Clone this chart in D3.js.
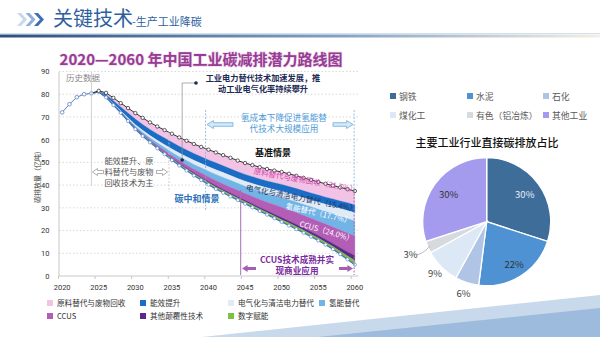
<!DOCTYPE html>
<html>
<head>
<meta charset="utf-8">
<script src="https://cdn.jsdelivr.net/npm/d3@7"></script>
<style>
  body { margin: 0; background: #fff; }
  svg { font-family: "Noto Sans CJK SC", "Noto Sans", sans-serif; display: block; }
</style>
</head>
<body>
<svg id="page" width="600" height="337"></svg>
<script>
// ---- historical emissions (亿吨) ----
var histYears = [2020, 2021, 2022, 2023, 2024]
var histValues = [72.0, 75.6, 78.7, 80.0, 80.4]

// ---- projection 2024..2060 ----
var projYears = d3.range(2024, 2061)
var baseline = [80.4, 81.5, 80.6, 78.4, 76.1, 73.9, 71.7, 69.6, 67.6, 65.8, 64.2, 62.6, 61.0, 59.5,
  58.1, 56.8, 55.6, 54.4, 53.2, 52.0, 50.8, 49.7, 48.8, 47.9, 47.1, 46.4, 45.8, 45.0, 44.1, 43.2,
  42.3, 41.4, 40.6, 39.8, 39.0, 38.2, 37.4]

// reduction wedges, stacked downwards from the baseline
var cutMaterial = [0, 0.2, 0.8, 1.3, 1.7, 2.2, 2.6, 2.9, 3.1, 3.3, 3.5, 3.7, 3.9, 4.0, 4.2, 4.3, 4.5,
  4.6, 4.7, 4.8, 4.9, 5.0, 5.1, 5.2, 5.3, 5.4, 5.5, 5.6, 5.6, 5.7, 5.8, 5.8, 5.9, 5.9, 6.0, 6.0, 6.1]
var cutEfficiency = [0, 0.3, 0.9, 1.3, 1.7, 2.1, 2.5, 2.6, 2.7, 2.8, 2.9, 3.0, 3.0, 3.0, 3.0, 3.0, 3.0,
  3.0, 3.0, 3.0, 3.0, 3.0, 3.0, 3.0, 3.0, 3.0, 3.0, 3.0, 3.0, 3.0, 3.0, 3.1, 3.1, 3.2, 3.3, 3.4, 3.5]
var cutElectric = [0, 0, 0.1, 0.2, 0.3, 0.5, 0.7, 0.8, 1.0, 1.1, 1.3, 1.5, 1.6, 1.7, 1.8, 1.9, 2.0,
  2.1, 2.1, 2.1, 2.1, 2.2, 2.3, 2.4, 2.5, 2.6, 2.7, 2.8, 2.9, 3.0, 3.0, 3.1, 3.2, 3.3, 3.4, 3.5, 3.6]
var cutHydrogen = [0, 0, 0.1, 0.2, 0.3, 0.4, 0.6, 0.8, 0.9, 1.1, 1.3, 1.5, 1.7, 1.9, 2.1, 2.3, 2.5,
  2.7, 2.9, 3.0, 3.1, 3.2, 3.4, 3.6, 3.8, 4.0, 4.3, 4.5, 4.7, 4.9, 5.1, 5.3, 5.5, 5.8, 6.1, 6.4, 6.6]
var cutCcus = [0, 0, 0, 0, 0, 0.1, 0.2, 0.3, 0.4, 0.6, 0.8, 1.0, 1.2, 1.4, 1.6, 1.8, 2.0,
  2.2, 2.4, 2.6, 2.8, 3.0, 3.2, 3.5, 3.8, 4.2, 4.6, 4.9, 5.2, 5.5, 5.9, 6.3, 6.8, 7.3, 7.8, 8.3, 8.7]
var cutDisruptive = [0, 0, 0, 0, 0.1, 0.1, 0.1, 0.2, 0.2, 0.2, 0.3, 0.3, 0.4, 0.4, 0.5, 0.5, 0.6,
  0.6, 0.6, 0.6, 0.6, 0.6, 0.7, 0.7, 0.8, 0.8, 0.9, 0.9, 1.0, 1.0, 1.1, 1.1, 1.2, 1.3, 1.5, 1.8, 2.1]
var cutDigital = [0, 0, 0.1, 0.2, 0.2, 0.3, 0.4, 0.4, 0.5, 0.5, 0.5, 0.6, 0.6, 0.7, 0.7, 0.8, 0.8,
  0.9, 0.9, 0.9, 0.9, 0.9, 0.9, 0.9, 0.9, 1.0, 1.0, 1.1, 1.1, 1.1, 1.1, 1.1, 1.1, 1.2, 1.3, 1.5, 1.8]

var wedgeKeys = ['material', 'efficiency', 'electric', 'hydrogen', 'ccus', 'disruptive', 'digital']
var wedgeNames = ['原料替代与废物回收', '能效提升', '电气化与清洁电力替代', '氢能替代', 'CCUS', '其他颠覆性技术', '数字赋能']
var wedgeColors = ['#f3c3e6', '#1b6cc4', '#e0ebf6', '#72b4e6', '#b35db6', '#5a2a88', '#7cc143']

var yTicks = [0, 10, 20, 30, 40, 50, 60, 70, 80, 90]
var xTickYears = [2020, 2025, 2030, 2035, 2040, 2045, 2050, 2055, 2060]

// ---- sector shares for the pie ----
var sectors = ['钢铁', '水泥', '石化', '煤化工', '有色（铝冶炼）', '其他工业']
var sectorShares = [30, 22, 6, 9, 3, 30]
var sectorColors = ['#3e6d99', '#4e92d3', '#b0c4e5', '#dce8f5', '#d6d9dd', '#a49bee']

var svg = d3.select('#page')

/* --------------------------------------
   Page header and decoration
*/
var defs = svg.append('defs')
var hg = defs.append('linearGradient').attr('id', 'headbar')
hg.append('stop').attr('offset', '0%').attr('stop-color', '#2c4f7d')
hg.append('stop').attr('offset', '55%').attr('stop-color', '#7f9fc4')
hg.append('stop').attr('offset', '100%').attr('stop-color', '#f2efe3')
svg.append('rect').attr('x', 0).attr('y', 33).attr('width', 600).attr('height', 1)
  .attr('fill', '#d3deeb')
svg.append('rect').attr('x', 0).attr('y', 34.5).attr('width', 600).attr('height', 3)
  .attr('fill', 'url(#headbar)')

var chevronColors = ['#c9d8ec', '#8fb0da', '#3d6fb2']
chevronColors.forEach(function (c, i) {
  var x0 = 17 + i * 8.5
  svg.append('path')
    .attr('d', `M${x0},13 L${x0 + 4},13 L${x0 + 10},19.5 L${x0 + 4},26 L${x0},26 L${x0 + 6},19.5 Z`)
    .attr('fill', c)
})
svg.append('text').attr('x', 53).attr('y', 26).attr('font-size', 20)
  .attr('fill', '#2f5f9f').text('关键技术')
svg.append('text').attr('x', 132).attr('y', 26).attr('font-size', 11)
  .attr('fill', '#2f5f9f').text('-生产工业降碳')

svg.append('path').attr('d', 'M202,337 L600,295 L600,337 Z').attr('fill', '#c8d9ec')
svg.append('path').attr('d', 'M318,337 L600,308 L600,337 Z').attr('fill', '#9dbbdc')

/* --------------------------------------
   Roadmap chart
*/
svg.append('text').attr('x', 201).attr('y', 65).attr('text-anchor', 'middle')
  .attr('font-size', 15).attr('font-weight', 700).attr('fill', '#973c94')
  .attr('stroke', '#ecd3ea').attr('stroke-width', 1.2).attr('paint-order', 'stroke')
  .text('2020—2060 年中国工业碳减排潜力路线图')

var x = d3.scaleLinear().domain([2019.5, 2060.5]).range([58.5, 358.5])
var y = d3.scaleLinear().domain([0, 90]).range([276, 71.5])

var chart = svg.append('g').attr('class', 'roadmap')

// grid
chart.append('g').selectAll('line').data(yTicks.slice(1)).join('line')
  .attr('x1', 59).attr('x2', 358).attr('y1', d => y(d)).attr('y2', d => y(d))
  .attr('stroke', '#c9c9c9').attr('stroke-width', 0.7).attr('stroke-dasharray', '1.5,2')

// y axis
var yAxis = d3.axisLeft(y).tickValues(yTicks).tickSize(0).tickPadding(9)
var gy = chart.append('g').attr('transform', 'translate(58.5,0)').call(yAxis)
gy.select('.domain').attr('stroke', '#c8c8c8')
gy.selectAll('text').attr('font-size', 7.5).attr('fill', '#333').attr('font-family', 'Roboto, sans-serif')

// x axis: ticks sit between yearly categories
var gx = chart.append('g').attr('transform', 'translate(0,276)')
gx.append('line').attr('x1', 58.5).attr('x2', 358.5).attr('stroke', '#c8c8c8')
gx.selectAll('line.tk').data(xTickYears).join('line').attr('class', 'tk')
  .attr('x1', d => x(d - 0.5)).attr('x2', d => x(d - 0.5)).attr('y1', 0).attr('y2', 3)
  .attr('stroke', '#c8c8c8')
gx.selectAll('text').data(xTickYears).join('text')
  .attr('x', d => x(d)).attr('y', 14).attr('text-anchor', 'middle')
  .attr('font-size', 7.5).attr('fill', '#333').attr('font-family', 'Roboto, sans-serif')
  .text(d => d)

svg.append('text').attr('transform', 'translate(40,175) rotate(-90)').attr('text-anchor', 'middle')
  .attr('font-size', 7).attr('fill', '#333').text('碳排放量（亿吨）')

// stacked wedges below the baseline
var rows = projYears.map(function (yr, i) {
  return {
    year: yr, base: baseline[i],
    material: cutMaterial[i], efficiency: cutEfficiency[i], electric: cutElectric[i],
    hydrogen: cutHydrogen[i], ccus: cutCcus[i], disruptive: cutDisruptive[i], digital: cutDigital[i]
  }
})
var stacked = d3.stack().keys(wedgeKeys)(rows)

var wedgeArea = d3.area()
  .x(d => x(d.data.year))
  .y0(d => y(d.data.base - d[0]))
  .y1(d => y(d.data.base - d[1]))

chart.append('g').selectAll('path').data(stacked).join('path')
  .attr('d', wedgeArea)
  .attr('fill', (d, i) => wedgeColors[i])
  .attr('stroke', (d, i) => wedgeColors[i]).attr('stroke-width', 0.3)

var neutral = rows.map(r => ({ year: r.year, v: r.base - wedgeKeys.reduce((s, k) => s + r[k], 0) }))

var line = d3.line().x(d => x(d.year)).y(d => y(d.v))

// carbon-neutral path
chart.append('path').attr('d', line(neutral)).attr('fill', 'none')
  .attr('stroke', '#3f74c6').attr('stroke-width', 1.2)
chart.append('g').selectAll('circle').data(neutral.slice(1)).join('circle')
  .attr('cx', d => x(d.year)).attr('cy', d => y(d.v)).attr('r', 1.6)
  .attr('fill', '#fff').attr('stroke', '#5b88cc').attr('stroke-width', 0.7)

// baseline path
var base = rows.map(r => ({ year: r.year, v: r.base }))
chart.append('path').attr('d', line(base)).attr('fill', 'none')
  .attr('stroke', '#222').attr('stroke-width', 0.9)
chart.append('g').selectAll('circle').data(base.slice(1)).join('circle')
  .attr('cx', d => x(d.year)).attr('cy', d => y(d.v)).attr('r', 1.7)
  .attr('fill', '#fff').attr('stroke', '#222').attr('stroke-width', 0.7)

// history
var hist = histYears.map((yr, i) => ({ year: yr, v: histValues[i] }))
chart.append('path').attr('d', line(hist)).attr('fill', 'none')
  .attr('stroke', '#5a7fc2').attr('stroke-width', 1)
chart.append('g').selectAll('circle').data(hist).join('circle')
  .attr('cx', d => x(d.year)).attr('cy', d => y(d.v)).attr('r', 1.8)
  .attr('fill', '#fff').attr('stroke', '#5a7fc2').attr('stroke-width', 0.8)

/* --------------------------------------
   Annotations on the roadmap
*/
var note = svg.append('g').attr('class', 'notes')

function vline (xv, y1, y2, color, dash, w) {
  note.append('line').attr('x1', xv).attr('x2', xv).attr('y1', y1).attr('y2', y2)
    .attr('stroke', color).attr('stroke-width', w || 0.8).attr('stroke-dasharray', dash || null)
}
function txt (xv, yv, s, size, color, weight, anchor) {
  return note.append('text').attr('x', xv).attr('y', yv).attr('font-size', size)
    .attr('fill', color).attr('font-weight', weight || 400)
    .attr('text-anchor', anchor || 'middle').text(s)
}
// block arrow, pointing left (dir=-1) or right (dir=1)
function arrow (xv, yv, dir, w, h, fill, stroke) {
  var hw = h / 2
  var head = Math.min(w * 0.45, h * 0.8)
  var p = [[0, 0], [head, -hw], [head, -hw * 0.45], [w, -hw * 0.45], [w, hw * 0.45], [head, hw * 0.45], [head, hw]]
  var pts = p.map(q => [xv + dir * q[0], yv + q[1]])
  note.append('path').attr('d', 'M' + pts.join('L') + 'Z')
    .attr('fill', fill).attr('stroke', stroke || 'none').attr('stroke-width', 0.8)
}

// history marker
vline(x(2024), 72, 186, '#c4c4c4')
txt(66, 81, '历史数据', 8.5, '#8a8a8a', 400, 'start')

// efficiency + material period
vline(x(2034.6), 132, 192, '#c4c4c4', '2,1.5')
txt(129, 164, '能效提升、原', 8.2, '#555')
txt(129, 175, '料替代与废物', 8.2, '#555')
txt(129, 186, '回收技术为主', 8.2, '#555')
arrow(92.5, 172, 1, 11, 7, '#fff', '#999')
arrow(167.5, 172, -1, 11, 7, '#fff', '#999')

// electrification callout
note.append('path').attr('d', `M${x(2036.4)},160 L${x(2036.4)},83 L196,83`)
  .attr('fill', 'none').attr('stroke', '#8a8a8a').attr('stroke-width', 0.7)
note.append('circle').attr('cx', x(2036.4)).attr('cy', 160).attr('r', 1.8).attr('fill', '#1c2a4f')
note.append('circle').attr('cx', 196).attr('cy', 83).attr('r', 1.8).attr('fill', '#1c2a4f')
txt(263, 81, '工业电力替代技术加速发展，推', 8.2, '#1c2a55', 700)
txt(263, 92, '动工业电气化率持续攀升', 8.2, '#1c2a55', 700)

// hydrogen period
vline(x(2039.6), 110, 210, '#79b3e3', '2,1.5')
vline(x(2059.9), 110, 190, '#79b3e3', '2,1.5')
txt(284, 121, '氢成本下降促进氢能替', 8.6, '#4d9ad8')
txt(284, 132, '代技术大规模应用', 8.6, '#4d9ad8')
arrow(207, 124.5, 1, 26, 8, '#d6e8f7', '#6aaee3')
arrow(353, 124.5, -1, 20, 8, '#d6e8f7', '#6aaee3')

txt(273, 156, '基准情景', 9, '#111', 700)
txt(197, 202, '碳中和情景', 9, '#2e72b8', 700)

// wedge labels along the slope
function slant (cx, cy, ang, s, color) {
  note.append('text').attr('transform', `translate(${cx},${cy}) rotate(${ang})`)
    .attr('text-anchor', 'middle').attr('font-size', 7.6).attr('fill', color).text(s)
}
slant(305, 183, 10, '原料替代与废物回收（21.7%）', '#cf4aad')
slant(301, 201, 11, '电气化与清洁电力替代（15.4%）', '#1f3462')
slant(318, 216, 13, '氢能替代（17.7%）', '#fff')
slant(326, 234, 16, 'CCUS（24.0%）', '#fff')

// CCUS period
vline(x(2044.4), 190, 275, '#a270b8', null, 1)
vline(x(2059.9), 190, 275, '#a270b8', '2,1.5', 1)
txt(297, 263, 'CCUS技术成熟并实', 8.6, '#7a2a9e', 700)
txt(297, 274, '现商业应用', 8.6, '#7a2a9e', 700)
arrow(242, 268.5, 1, 14, 7, '#a65db5')
arrow(353, 268.5, -1, 14, 7, '#a65db5')

// legend
var legPos = [[47, 303], [140, 303], [228, 303], [319, 303], [47, 316], [140, 316], [228, 316]]
var leg = svg.append('g').selectAll('g').data(wedgeNames).join('g')
  .attr('transform', (d, i) => `translate(${legPos[i][0]},${legPos[i][1]})`)
leg.append('rect').attr('x', 0).attr('y', -3).attr('width', 6).attr('height', 6)
  .attr('fill', (d, i) => wedgeColors[i])
leg.append('text').attr('x', 10).attr('y', 3).attr('font-size', 7.6).attr('fill', '#333').text(d => d)

/* --------------------------------------
   Sector pie
*/
var pieLegPos = [[390, 96], [467, 96], [543, 96], [390, 115], [467, 115], [543, 115]]
var pleg = svg.append('g').selectAll('g').data(sectors).join('g')
  .attr('transform', (d, i) => `translate(${pieLegPos[i][0]},${pieLegPos[i][1]})`)
pleg.append('rect').attr('x', 0).attr('y', -3).attr('width', 6).attr('height', 6)
  .attr('fill', (d, i) => sectorColors[i])
pleg.append('text').attr('x', 9).attr('y', 3.5).attr('font-size', 8.8).attr('fill', '#595959').text(d => d)

svg.append('text').attr('x', 487).attr('y', 147).attr('text-anchor', 'middle')
  .attr('font-size', 11).attr('font-weight', 500).attr('fill', '#111').text('主要工业行业直接碳排放占比')

var cx = 486.7, cy = 221.7, r = 64
var arcs = d3.pie().sort(null).value(d => d)(sectorShares)
var arc = d3.arc().innerRadius(0).outerRadius(r)
var pie = svg.append('g').attr('transform', `translate(${cx},${cy})`)
pie.selectAll('path').data(arcs).join('path')
  .attr('d', arc).attr('fill', (d, i) => sectorColors[i])
  .attr('stroke', '#fff').attr('stroke-width', 1.3)

// label positions: inside for big slices, outside for small ones
var labelR = [47, 51, 75, 73, 83, 47]
var labelColor = ['#e9eef6', '#333', '#444', '#444', '#444', '#333']
pie.selectAll('text').data(arcs).join('text')
  .attr('transform', (d, i) => {
    var a = (d.startAngle + d.endAngle) / 2
    return `translate(${Math.sin(a) * labelR[i]},${-Math.cos(a) * labelR[i] + 3.5})`
  })
  .attr('text-anchor', 'middle').attr('font-size', 9.5)
  .attr('fill', (d, i) => labelColor[i])
  .text(d => d.data + '%')

// leader for the small slice
var small = arcs[4]
var am = (small.startAngle + small.endAngle) / 2
var p0 = [Math.sin(am) * (r - 2), -Math.cos(am) * (r - 2)]
var p1 = [Math.sin(am) * (r + 10), -Math.cos(am) * (r + 10) + 3]
pie.append('path').attr('d', `M${p0[0]},${p0[1]} Q${p1[0] + 4},${p1[1]} ${p1[0] - 3},${p1[1] + 1}`)
  .attr('fill', 'none').attr('stroke', '#999').attr('stroke-width', 0.7)
</script>
</body>
</html>
